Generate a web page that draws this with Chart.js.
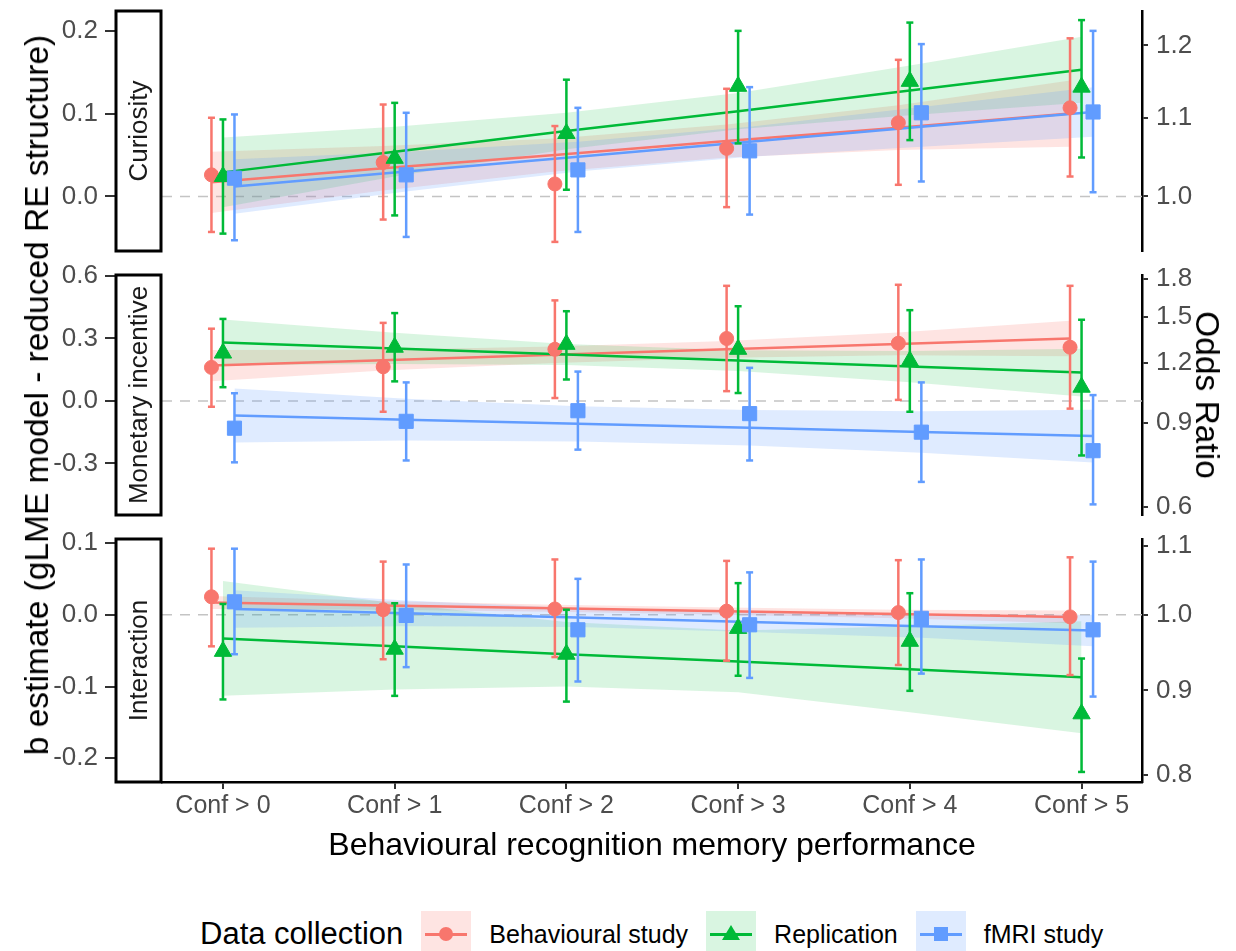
<!DOCTYPE html>
<html>
<head>
<meta charset="utf-8">
<script src="https://cdn.jsdelivr.net/npm/chart.js@4.4.1/dist/chart.umd.min.js"></script>
<style>
  html, body { margin: 0; padding: 0; background: #fff; overflow: hidden; }
  #wrap { position: relative; width: 1236px; height: 951px; font-family: "Liberation Sans", Arial, sans-serif; }
  canvas { position: absolute; left: 0; }
  .ytitle { position: absolute; white-space: nowrap; font-size: 33.5px; color: #000;
            transform: translate(-50%, -50%) rotate(-90deg); }
  .rtitle { position: absolute; white-space: nowrap; font-size: 33.5px; color: #000;
            transform: translate(-50%, -50%) rotate(90deg); }
  #legend { position: absolute; left: 200px; top: 911px; height: 46px; display: flex; align-items: center; }
  .ltitle { font-size: 31px; margin-right: 18px; color: #000; }
  .key { position: relative; width: 50px; height: 46px; margin-right: 18px; }
  .key .ln { position: absolute; left: 4px; right: 4px; top: 22px; height: 3px; }
  .key .mk { position: absolute; }
  .lab { font-size: 25px; margin-right: 18px; color: #000; }
</style>
</head>
<body>
<div id="wrap">
  <canvas id="c1" width="1236" height="262" style="top:0px"></canvas>
  <canvas id="c2" width="1236" height="262" style="top:264px"></canvas>
  <canvas id="c3" width="1236" height="352" style="top:528px"></canvas>
  <div class="ytitle" style="left:37px; top:395px">b estimate (gLME model - reduced RE structure)</div>
  <div class="rtitle" style="left:1207px; top:395px">Odds Ratio</div>
  <div id="legend"></div>
</div>
<script>
const categories = ['Conf > 0', 'Conf > 1', 'Conf > 2', 'Conf > 3', 'Conf > 4', 'Conf > 5'];
const seriesNames = ['Behavioural study', 'Replication', 'fMRI study'];
const xTitle = 'Behavioural recognition memory performance';

// rows: Behavioural study, Replication, fMRI study
const curiosityEst = [
  [0.026, 0.041, 0.015, 0.058, 0.089, 0.107],
  [0.024, 0.046, 0.076, 0.133, 0.139, 0.132],
  [0.022, 0.026, 0.032, 0.055, 0.101, 0.102]
];
const curiosityLo = [
  [-0.043, -0.028, -0.055, -0.013, 0.014, 0.024],
  [-0.045, -0.023, 0.008, 0.064, 0.068, 0.047],
  [-0.053, -0.049, -0.043, -0.022, 0.018, 0.005]
];
const curiosityHi = [
  [0.095, 0.111, 0.085, 0.130, 0.165, 0.191],
  [0.093, 0.113, 0.141, 0.200, 0.210, 0.213],
  [0.099, 0.101, 0.107, 0.132, 0.184, 0.200]
];
const curiosityFit = [
  [0.017, 0.034, 0.050, 0.067, 0.083, 0.100],
  [0.029, 0.054, 0.079, 0.103, 0.128, 0.153],
  [0.012, 0.030, 0.048, 0.066, 0.084, 0.102]
];
const curiosityFitLo = [
  [-0.020, 0.007, 0.030, 0.047, 0.056, 0.060],
  [-0.013, 0.024, 0.057, 0.081, 0.098, 0.113],
  [-0.021, 0.006, 0.030, 0.048, 0.060, 0.072]
];
const curiosityFitHi = [
  [0.054, 0.061, 0.070, 0.087, 0.110, 0.140],
  [0.071, 0.084, 0.101, 0.125, 0.158, 0.193],
  [0.045, 0.054, 0.066, 0.084, 0.108, 0.132]
];

const monetaryEst = [
  [0.161, 0.164, 0.248, 0.300, 0.277, 0.258],
  [0.230, 0.258, 0.272, 0.248, 0.192, 0.066],
  [-0.131, -0.098, -0.047, -0.061, -0.150, -0.239]
];
const monetaryLo = [
  [-0.028, -0.052, 0.014, 0.047, 0.005, -0.037],
  [0.066, 0.094, 0.103, 0.038, -0.052, -0.262],
  [-0.295, -0.286, -0.234, -0.286, -0.389, -0.497]
];
const monetaryHi = [
  [0.347, 0.375, 0.483, 0.553, 0.558, 0.553],
  [0.394, 0.422, 0.431, 0.455, 0.436, 0.390],
  [0.037, 0.089, 0.141, 0.159, 0.089, 0.028]
];
const monetaryFit = [
  [0.170, 0.196, 0.222, 0.248, 0.274, 0.300],
  [0.281, 0.252, 0.223, 0.194, 0.165, 0.136],
  [-0.070, -0.090, -0.110, -0.129, -0.149, -0.169]
];
const monetaryFitLo = [
  [0.095, 0.146, 0.182, 0.208, 0.219, 0.215],
  [0.171, 0.177, 0.173, 0.144, 0.090, 0.021],
  [-0.200, -0.190, -0.195, -0.214, -0.249, -0.296]
];
const monetaryFitHi = [
  [0.245, 0.246, 0.262, 0.288, 0.329, 0.385],
  [0.391, 0.327, 0.273, 0.244, 0.240, 0.251],
  [0.060, 0.010, -0.025, -0.044, -0.049, -0.042]
];

const interactionEst = [
  [0.025, 0.007, 0.008, 0.005, 0.003, -0.003],
  [-0.051, -0.048, -0.055, -0.019, -0.037, -0.138],
  [0.018, -0.001, -0.021, -0.014, -0.005, -0.021]
];
const interactionLo = [
  [-0.044, -0.062, -0.059, -0.064, -0.070, -0.084],
  [-0.118, -0.113, -0.121, -0.085, -0.106, -0.219],
  [-0.055, -0.073, -0.093, -0.088, -0.082, -0.114]
];
const interactionHi = [
  [0.092, 0.074, 0.077, 0.075, 0.076, 0.080],
  [0.015, 0.016, 0.007, 0.044, 0.030, -0.061],
  [0.092, 0.070, 0.050, 0.059, 0.077, 0.074]
];
const interactionFit = [
  [0.017, 0.013, 0.009, 0.005, 0.001, -0.003],
  [-0.033, -0.044, -0.055, -0.065, -0.076, -0.087],
  [0.008, 0.002, -0.004, -0.010, -0.016, -0.022]
];
const interactionFitLo = [
  [0.008, 0.007, 0.004, 0.000, -0.005, -0.012],
  [-0.113, -0.104, -0.100, -0.108, -0.136, -0.165],
  [-0.018, -0.016, -0.017, -0.024, -0.032, -0.044]
];
const interactionFitHi = [
  [0.026, 0.019, 0.014, 0.010, 0.007, 0.006],
  [0.047, 0.016, -0.010, -0.022, -0.016, -0.009],
  [0.034, 0.020, 0.009, 0.004, 0.000, 0.000]
];

const curiosityTicks = [0.0, 0.1, 0.2];
const curiosityOR = [1.0, 1.1, 1.2];
const monetaryTicks = [-0.3, 0.0, 0.3, 0.6];
const monetaryOR = [0.6, 0.9, 1.2, 1.5, 1.8];
const interactionTicks = [-0.2, -0.1, 0.0, 0.1];
const interactionOR = [0.8, 0.9, 1.0, 1.1];

const colors = ['#F8766D', '#00BA38', '#619CFF'];
const ribbonColors = ['rgba(248,118,109,0.2)', 'rgba(0,186,56,0.15)', 'rgba(97,156,255,0.2)'];
const shapes = ['circle', 'triangle', 'rect'];
const shapeRadius = [7, 10, 10];
const dodge = [-0.067, 0, 0.067];
const xMin = -0.355, xMax = 5.352;
const FONT = '"Liberation Sans", Arial, sans-serif';
const tickGrey = '#4d4d4d';

Chart.defaults.font.family = FONT;

const stripPlugin = {
  id: 'strip',
  afterDraw(chart, args, opts) {
    const { ctx, chartArea } = chart;
    const x0 = 116, w = 45;
    const top = chartArea.top, h = chartArea.bottom - chartArea.top;
    ctx.save();
    ctx.fillStyle = '#fff';
    ctx.fillRect(x0, top, w, h);
    ctx.lineWidth = 3;
    ctx.strokeStyle = '#000';
    ctx.strokeRect(x0, top, w, h);
    ctx.translate(x0 + w / 2, top + h / 2);
    ctx.rotate(-Math.PI / 2);
    ctx.fillStyle = '#1a1a1a';
    ctx.font = '26px ' + FONT;
    ctx.textAlign = 'center';
    ctx.textBaseline = 'middle';
    ctx.fillText(opts.text, 0, 1);
    ctx.restore();
  }
};

function buildDatasets(est, lo, hi, fit, fitLo, fitHi) {
  const ds = [];
  ds.push({
    data: [{ x: xMin, y: 0 }, { x: xMax, y: 0 }],
    borderColor: '#c4c4c4', borderWidth: 1.5, borderDash: [10, 8], pointRadius: 0, order: 50
  });
  seriesNames.forEach((name, s) => {
    const xs = categories.map((c, i) => i + dodge[s]);
    // confidence ribbon
    ds.push({
      data: xs.map((x, i) => ({ x, y: fitLo[s][i] })),
      borderColor: 'transparent', borderWidth: 0, pointRadius: 0, fill: false, order: 40 - s
    });
    ds.push({
      data: xs.map((x, i) => ({ x, y: fitHi[s][i] })),
      borderColor: 'transparent', borderWidth: 0, pointRadius: 0,
      fill: '-1', backgroundColor: ribbonColors[s], order: 40 - s
    });
    // fitted line
    ds.push({
      data: xs.map((x, i) => ({ x, y: fit[s][i] })),
      borderColor: colors[s], borderWidth: 2.5, pointRadius: 0, order: 30 - s
    });
    // error bars
    const eb = [];
    xs.forEach((x, i) => { eb.push({ x, y: lo[s][i] }, { x, y: hi[s][i] }, { x, y: null }); });
    ds.push({
      data: eb, borderColor: colors[s], borderWidth: 2.5, spanGaps: false,
      pointStyle: 'line', pointRadius: 3.5, pointBorderColor: colors[s], pointBorderWidth: 2.5,
      order: 20 - s
    });
    // estimates
    ds.push({
      data: xs.map((x, i) => ({ x, y: est[s][i] })), showLine: false,
      pointStyle: shapes[s], pointRadius: shapeRadius[s],
      pointBackgroundColor: colors[s], pointBorderColor: colors[s], pointBorderWidth: 1,
      order: 10 - s
    });
  });
  return ds;
}

function makeChart(id, label, range, bTicks, orTicks, data, showX) {
  return new Chart(document.getElementById(id), {
    type: 'line',
    data: { datasets: buildDatasets(...data) },
    options: {
      responsive: false,
      animation: false,
      events: [],
      layout: { padding: { top: 8, bottom: showX ? 0 : 9, left: 0, right: 0 } },
      plugins: { legend: { display: false }, tooltip: { enabled: false }, strip: { text: label } },
      scales: {
        x: {
          type: 'linear', min: xMin, max: xMax, display: showX,
          afterBuildTicks: s => { s.ticks = categories.map((c, i) => ({ value: i })); },
          afterFit: s => {
            s.height = showX ? 98 : 0;
            s.paddingLeft = 0; s.paddingRight = 0;
          },
          grid: { drawOnChartArea: false, drawTicks: true, tickLength: 7, color: '#333', tickColor: '#333', lineWidth: 2 },
          border: { display: true, color: '#000', width: 2.5 },
          ticks: { autoSkip: false, maxRotation: 0, padding: 2, color: tickGrey, font: { size: 25 },
                   callback: v => categories[v] },
          title: { display: true, text: xTitle, color: '#000', font: { size: 32 }, padding: { top: 0, bottom: 15 } }
        },
        y: {
          position: 'left', min: range[0], max: range[1],
          afterBuildTicks: s => { s.ticks = bTicks.map(v => ({ value: v })); },
          afterFit: s => { s.width = 162; s.paddingTop = 0; s.paddingBottom = 0; },
          grid: { drawOnChartArea: false, drawTicks: true, tickLength: 57, color: '#333', tickColor: '#333', lineWidth: 2 },
          border: { display: false },
          ticks: { autoSkip: false, padding: 7, color: tickGrey, font: { size: 26 },
                   callback: v => v.toFixed(1) }
        },
        yR: {
          position: 'right', min: range[0], max: range[1],
          afterBuildTicks: s => { s.ticks = orTicks.map(v => ({ value: Math.log(v) })); },
          afterFit: s => { s.width = 94; s.paddingTop = 0; s.paddingBottom = 0; },
          grid: { drawOnChartArea: false, drawTicks: true, tickLength: 6, color: '#333', tickColor: '#333', lineWidth: 2 },
          border: { display: true, color: '#000', width: 2.5 },
          ticks: { autoSkip: false, padding: 8, color: tickGrey, font: { size: 26 },
                   callback: v => Math.exp(v).toFixed(1) }
        }
      }
    },
    plugins: [stripPlugin]
  });
}

makeChart('c1', 'Curiosity', [-0.066, 0.224], curiosityTicks, curiosityOR,
  [curiosityEst, curiosityLo, curiosityHi, curiosityFit, curiosityFitLo, curiosityFitHi], false);
makeChart('c2', 'Monetary incentive', [-0.548, 0.605], monetaryTicks, monetaryOR,
  [monetaryEst, monetaryLo, monetaryHi, monetaryFit, monetaryFitLo, monetaryFitHi], false);
makeChart('c3', 'Interaction', [-0.233, 0.1055], interactionTicks, interactionOR,
  [interactionEst, interactionLo, interactionHi, interactionFit, interactionFitLo, interactionFitHi], true);

// legend
const legend = document.getElementById('legend');
let html = '<span class="ltitle">Data collection</span>';
seriesNames.forEach((name, s) => {
  let mk;
  if (shapes[s] === 'circle') {
    mk = `<div class="mk" style="left:18px;top:16px;width:14px;height:14px;border-radius:50%;background:${colors[s]}"></div>`;
  } else if (shapes[s] === 'triangle') {
    mk = `<div class="mk" style="left:16px;top:14px;width:0;height:0;border-left:9px solid transparent;border-right:9px solid transparent;border-bottom:15px solid ${colors[s]}"></div>`;
  } else {
    mk = `<div class="mk" style="left:18px;top:16px;width:14px;height:14px;background:${colors[s]}"></div>`;
  }
  html += `<div class="key" style="background:${ribbonColors[s]}"><div class="ln" style="background:${colors[s]}"></div>${mk}</div>`;
  html += `<span class="lab">${name}</span>`;
});
legend.innerHTML = html;
</script>
</body>
</html>
